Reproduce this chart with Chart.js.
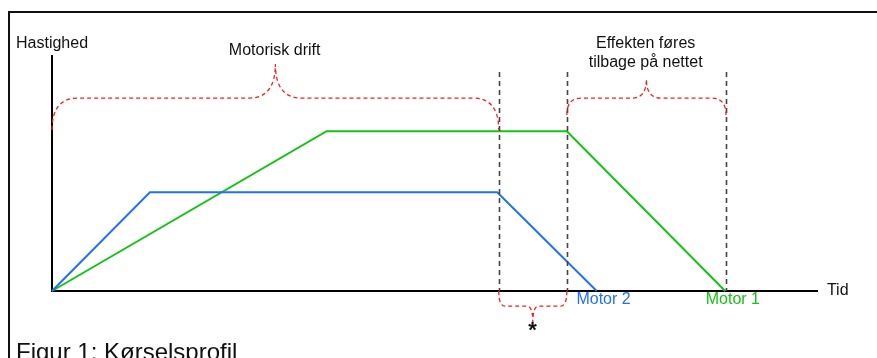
<!DOCTYPE html>
<html>
<head>
<meta charset="utf-8">
<script src="https://cdn.jsdelivr.net/npm/chart.js@4"></script>
<style>
  html, body { margin: 0; padding: 0; background: #fff; }
  #wrap { position: relative; width: 877px; height: 358px; overflow: hidden; }
  #frame { position: absolute; left: 8px; top: 11px; width: 880px; height: 360px;
           border-left: 2px solid #111; border-top: 2px solid #111; }
  #caption { position: absolute; left: 16px; top: 338px; font: 24px "Liberation Sans", Arial, sans-serif; color: #111; white-space: nowrap; }
  canvas { position: absolute; left: 0; top: 0; }
</style>
</head>
<body>
<div id="wrap">
  <div id="frame"></div>
  <canvas id="chartjs-0" width="877" height="358"></canvas>
  <div id="caption">Figur 1: Kørselsprofil</div>
</div>
<script>
// speed profiles (time, speed) - arbitrary units, axes run 0..100
var timeMotor2 = [0, 12.8, 58.2, 71.2];
var speedMotor2 = [0, 42, 42, 0];
var timeMotor1 = [0, 35.9, 67.3, 88.0];
var speedMotor1 = [0, 68, 68, 0];

// dashed phase borders (time) and how high they reach
var phaseTimes = [58.4, 67.3, 88.1];
var phaseTop = 93.2;

// braces: from, to, flat level, tip level, end level
var braceFrom = [0, 67.3, 58.4];
var braceTo = [58.4, 88.1, 67.3];
var braceLevel = [82.1, 82.1, -6.4];
var braceTip = [96.6, 90.2, -13.2];
var braceEnd = [68.5, 74.9, 0];

// text labels
var labelText = ["Hastighed", "Motorisk drift", "Effekten føres", "tilbage på nettet", "Motor 2", "Motor 1", "Tid", "*"];
var labelX = [0, 29.1, 77.6, 77.6, 72.1, 89.0, 101.3, 62.8];
var labelY = [105.1, 102.1, 105.1, 97.4, -3.8, -3.8, 0, -17.2];

var blue = "#2172f2";
var green = "#14c414";

function toPoints(xs, ys) {
    var pts = [];
    for (var i = 0; i < xs.length; i++) {
        pts.push({ x: xs[i], y: ys[i] });
    }
    return pts;
}

var extras = {
    id: "extras",
    afterDatasetsDraw: function (chart) {
        var ctx = chart.ctx;
        var xs = chart.scales.x;
        var ys = chart.scales.y;
        ctx.save();

        /* dashed vertical phase lines */
        ctx.strokeStyle = "#444";
        ctx.lineWidth = 1.6;
        ctx.setLineDash([5, 4]);
        for (var i = 0; i < phaseTimes.length; i++) {
            var px = Math.round(xs.getPixelForValue(phaseTimes[i])) + 0.5;
            ctx.beginPath();
            ctx.moveTo(px, ys.getPixelForValue(phaseTop));
            ctx.lineTo(px, ys.getPixelForValue(0));
            ctx.stroke();
        }

        /* red braces */
        ctx.strokeStyle = "#ff1a1a";
        ctx.lineWidth = 1.3;
        ctx.setLineDash([4, 3]);
        for (var b = 0; b < braceFrom.length; b++) {
            var x0 = xs.getPixelForValue(braceFrom[b]);
            var x1 = xs.getPixelForValue(braceTo[b]);
            var xc = (x0 + x1) / 2;
            var yl = ys.getPixelForValue(braceLevel[b]);
            var yt = ys.getPixelForValue(braceTip[b]);
            var ye = ys.getPixelForValue(braceEnd[b]);
            var r = Math.min(26, (x1 - x0) * 0.09);
            ctx.beginPath();
            ctx.moveTo(x0, ye);
            ctx.quadraticCurveTo(x0, yl, x0 + r, yl);
            ctx.lineTo(xc - r, yl);
            ctx.quadraticCurveTo(xc, yl, xc, yt);
            ctx.quadraticCurveTo(xc, yl, xc + r, yl);
            ctx.lineTo(x1 - r, yl);
            ctx.quadraticCurveTo(x1, yl, x1, ye);
            ctx.stroke();
        }
        ctx.setLineDash([]);

        /* labels */
        ctx.textBaseline = "middle";
        for (var t = 0; t < labelText.length; t++) {
            var s = labelText[t];
            ctx.fillStyle = "#111";
            ctx.textAlign = "center";
            ctx.font = '16px "Liberation Sans", Arial, sans-serif';
            if (s === "Motor 2") ctx.fillStyle = blue;
            if (s === "Motor 1") ctx.fillStyle = green;
            if (s === "Tid") ctx.textAlign = "left";
            if (s === "*") ctx.font = 'bold 22px "Liberation Sans", Arial, sans-serif';
            ctx.fillText(s, xs.getPixelForValue(labelX[t]), ys.getPixelForValue(labelY[t]));
        }
        ctx.restore();
    }
};

var ctx = document.getElementById("chartjs-0");
var myChart = new Chart(ctx, {
    type: "line",
    data: {
        datasets: [{
            label: "Motor 2",
            data: toPoints(timeMotor2, speedMotor2),
            borderColor: blue,
            borderWidth: 2,
            pointRadius: 0,
            fill: false,
            tension: 0,
            clip: false
        }, {
            label: "Motor 1",
            data: toPoints(timeMotor1, speedMotor1),
            borderColor: green,
            borderWidth: 2,
            pointRadius: 0,
            fill: false,
            tension: 0,
            clip: false
        }]
    },
    options: {
        responsive: false,
        animation: false,
        layout: { padding: { left: 52, top: 56, right: 60, bottom: 67 } },
        plugins: { legend: { display: false }, tooltip: { enabled: false } },
        scales: {
            x: {
                type: "linear", min: 0, max: 100,
                ticks: { display: false },
                grid: { display: false, drawTicks: false },
                border: { display: true, color: "#000", width: 2 }
            },
            y: {
                type: "linear", min: 0, max: 100,
                ticks: { display: false },
                grid: { display: false, drawTicks: false },
                border: { display: true, color: "#000", width: 2 }
            }
        }
    },
    plugins: [extras]
});
</script>
</body>
</html>
